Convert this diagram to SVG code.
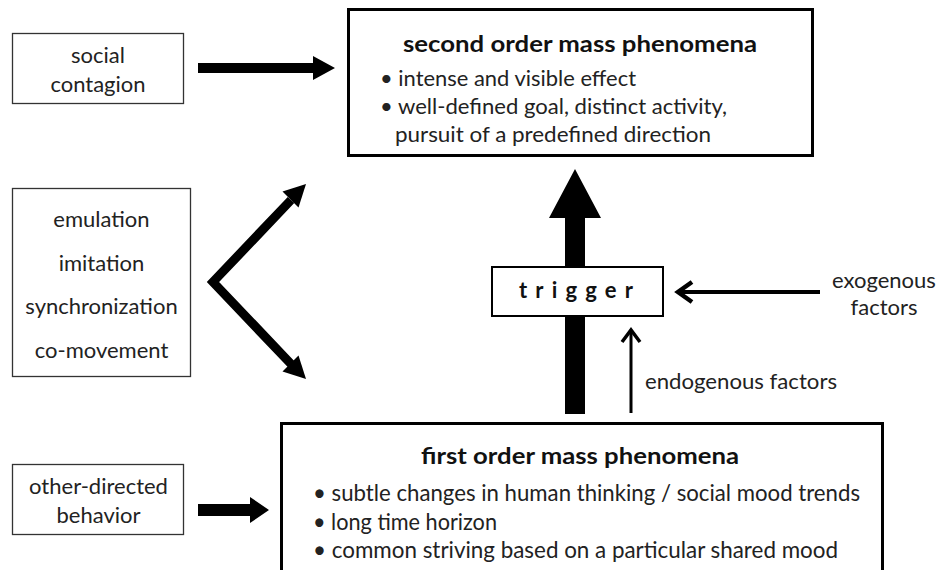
<svg xmlns="http://www.w3.org/2000/svg" width="938" height="570" viewBox="0 0 938 570">
<style>
text{font-family:Lato,"Open Sans","Liberation Sans",sans-serif;fill:#222;}
.t{font-weight:bold;font-size:22px;fill:#111;}
.b{font-size:21px;}
.bb{font-size:23px;}
.tb{font-weight:bold;font-size:23px;fill:#111;}
.s{font-size:22px;text-anchor:middle;}
.main{fill:#fff;stroke:#000;stroke-width:3;}
.side{fill:#fff;stroke:#333;stroke-width:1.3;}
.blk{fill:#000;stroke:none;}
.ln{fill:none;stroke:#000;}
</style>
<rect width="938" height="570" fill="#fff"/>
<g id="connectors">
  <!-- social contagion -> second order -->
  <polygon class="blk" points="198,63 313,63 313,56 335,68 313,80 313,73 198,73"/>
  <!-- other-directed -> first order -->
  <polygon class="blk" points="198,504 250,504 250,497 269,510 250,523 250,516 198,516"/>
  <!-- V arrows from emulation box -->
  <polyline class="ln" points="291,200 213,282 291,364" stroke-width="9" stroke-linejoin="miter" stroke-miterlimit="10"/>
  <polygon class="blk" points="306,184 298.5,207.5 282.5,191.5"/>
  <polygon class="blk" points="306,379 282.5,371.5 298.5,355.5"/>
  <!-- big arrow first -> second -->
  <polygon class="blk" points="565,414 565,218 549,218 575,169 601,218 585,218 585,414"/>
  <!-- exogenous -> trigger -->
  <line class="ln" x1="820" y1="292" x2="680" y2="292" stroke-width="4"/>
  <polyline class="ln" points="692,282 678,292 692,302" stroke-width="4.5"/>
  <!-- endogenous -> trigger -->
  <line class="ln" x1="631" y1="413" x2="631" y2="331" stroke-width="3"/>
  <polyline class="ln" points="622,342 631,330 640,342" stroke-width="3.5"/>
</g>
<g id="second-order">
  <rect class="main" x="348.5" y="9.5" width="464" height="146"/>
  <text class="t" x="403" y="52" textLength="354" lengthAdjust="spacingAndGlyphs">second order mass phenomena</text>
  <text class="b" x="380" y="86" textLength="256" lengthAdjust="spacingAndGlyphs">• intense and visible effect</text>
  <text class="b" x="380" y="114" textLength="347" lengthAdjust="spacingAndGlyphs">• well-defined goal, distinct activity,</text>
  <text class="b" x="395" y="142" textLength="316" lengthAdjust="spacingAndGlyphs">pursuit of a predefined direction</text>
</g>
<g id="social-contagion">
  <rect class="side" x="12.5" y="33.5" width="171" height="70"/>
  <text class="s" x="98" y="63">social</text>
  <text class="s" x="98" y="92">contagion</text>
</g>
<g id="emulation">
  <rect class="side" x="12.5" y="188.5" width="178" height="188"/>
  <text class="s" x="101.5" y="227">emulation</text>
  <text class="s" x="101.5" y="271">imitation</text>
  <text class="s" x="101.5" y="314">synchronization</text>
  <text class="s" x="101.5" y="358">co-movement</text>
</g>
<g id="trigger">
  <rect fill="#fff" stroke="#000" stroke-width="2" x="492" y="267" width="171" height="49"/>
  <text x="519" y="298" style="font-weight:bold;font-size:22px;fill:#111;" textLength="114" lengthAdjust="spacing">trigger</text>
</g>
<g id="exogenous">
  <text class="s" x="884" y="288">exogenous</text>
  <text class="s" x="884" y="315">factors</text>
</g>
<g id="endogenous">
  <text class="b" x="645" y="389" style="font-size:21px" textLength="192" lengthAdjust="spacingAndGlyphs">endogenous factors</text>
</g>
<g id="first-order">
  <rect class="main" x="281.5" y="423.5" width="601" height="160"/>
  <text class="tb" x="421" y="464" textLength="318" lengthAdjust="spacingAndGlyphs">first order mass phenomena</text>
  <text class="bb" x="313" y="501" textLength="547" lengthAdjust="spacingAndGlyphs">• subtle changes in human thinking / social mood trends</text>
  <text class="bb" x="313" y="530" textLength="184" lengthAdjust="spacingAndGlyphs">• long time horizon</text>
  <text class="bb" x="313" y="558" textLength="525" lengthAdjust="spacingAndGlyphs">• common striving based on a particular shared mood</text>
</g>
<g id="other-directed">
  <rect class="side" x="12.5" y="464.5" width="171" height="70"/>
  <text class="s" x="98.5" y="494">other-directed</text>
  <text class="s" x="98.5" y="523">behavior</text>
</g>
</svg>
